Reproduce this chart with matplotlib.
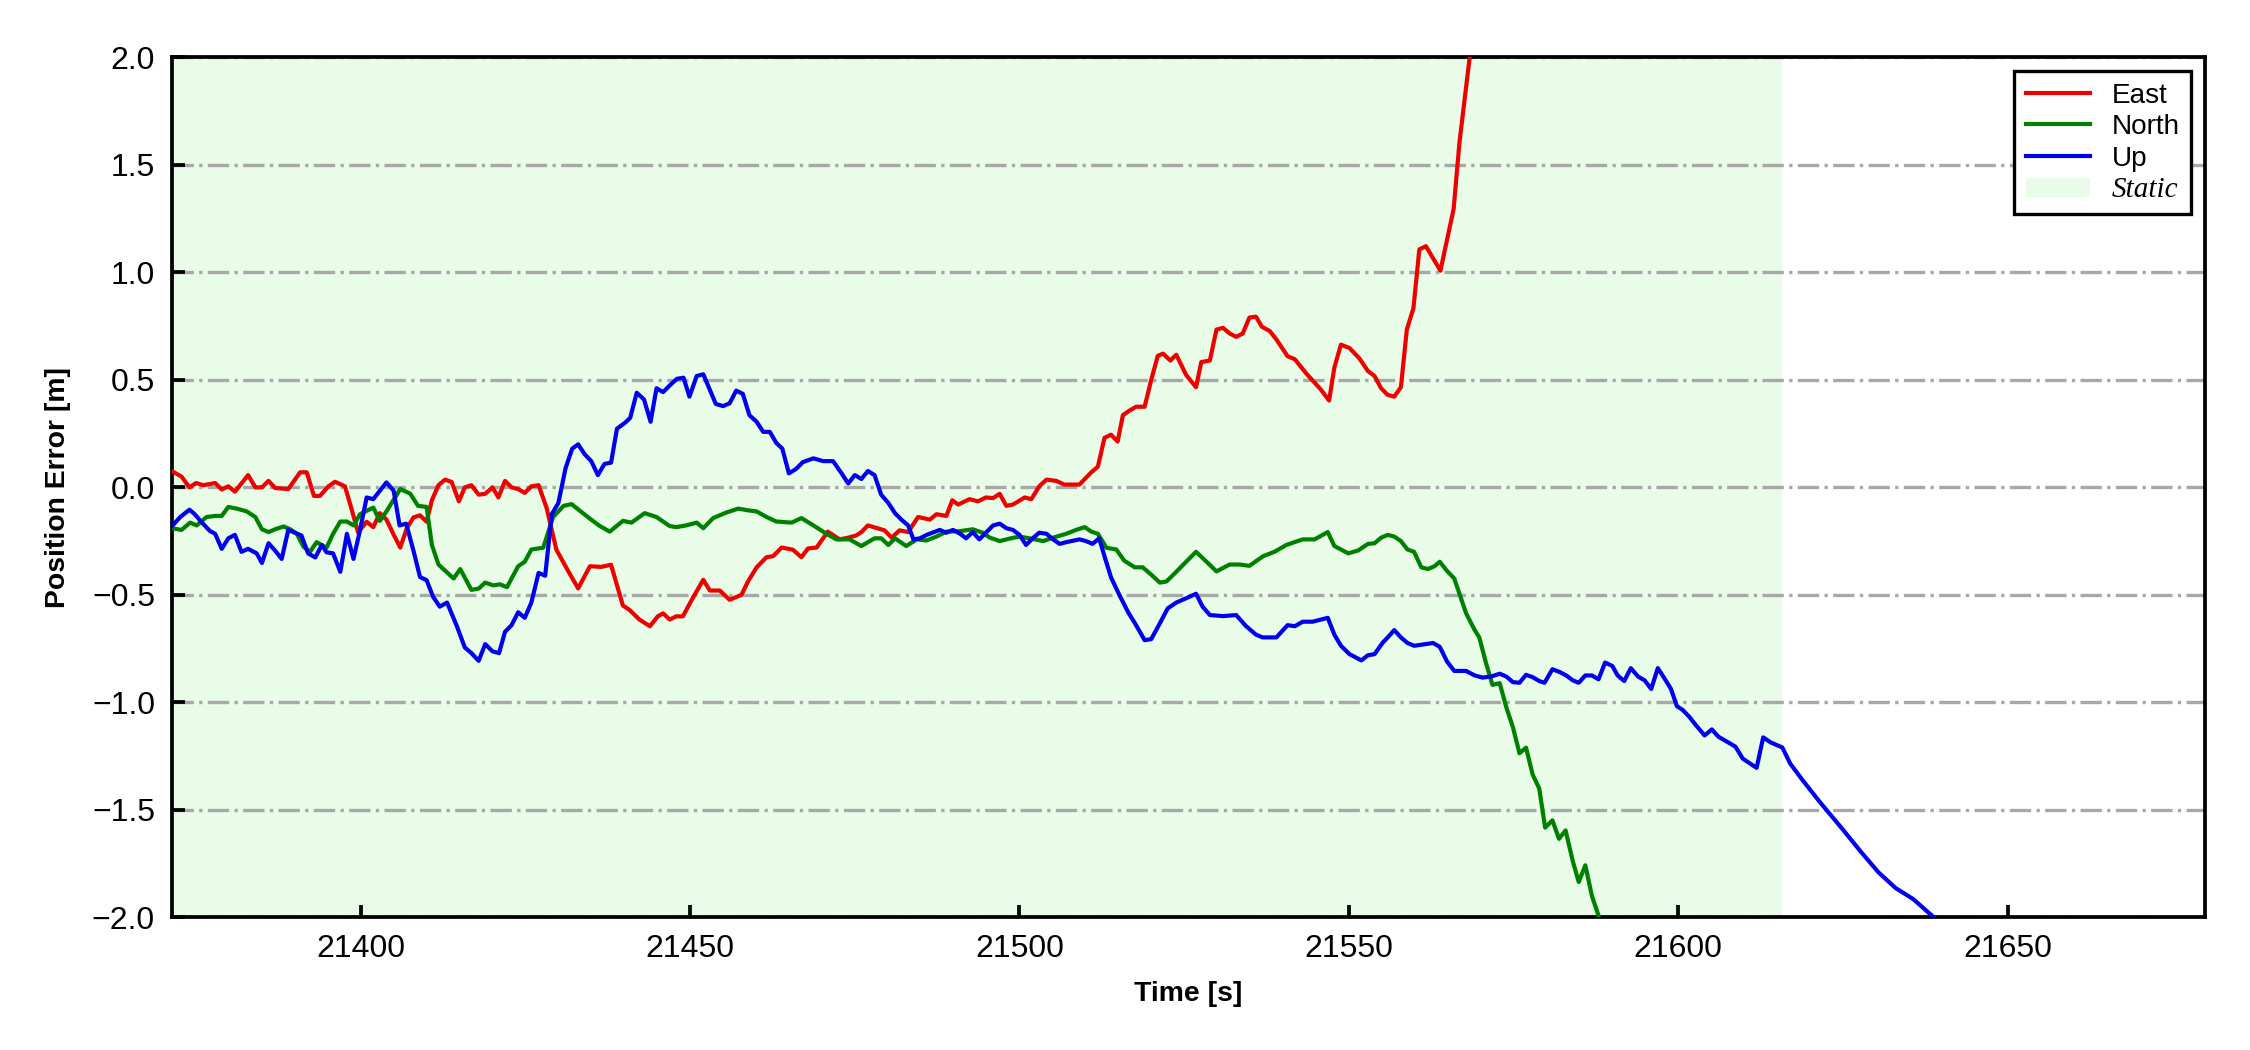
import matplotlib
matplotlib.use("Agg")
import matplotlib.pyplot as plt
from matplotlib.patches import Patch
from matplotlib.lines import Line2D

# ---------------- data ----------------
east_t = [21371.3, 21372.8, 21374.0, 21375.0, 21376.1, 21377.9, 21378.9, 21379.9, 21380.9, 21382.9,
          21384.0, 21385.0, 21386.0, 21387.0, 21389.0, 21390.8, 21391.8, 21392.9, 21393.8, 21395.1,
          21396.1, 21397.6, 21398.6, 21399.6, 21400.9, 21401.9, 21402.9, 21403.9, 21405.0, 21406.0,
          21407.0, 21408.0, 21409.0, 21410.0, 21410.8, 21411.8, 21412.8, 21413.8, 21414.9, 21415.8,
          21416.8, 21417.9, 21418.9, 21420.0, 21420.9, 21421.9, 21422.9, 21423.9, 21424.9, 21425.9,
          21427.0, 21428.2, 21429.7, 21431.5, 21433.0, 21434.8, 21436.5, 21438.0, 21439.8, 21440.8,
          21442.3, 21443.9, 21445.1, 21445.9, 21446.9, 21447.9, 21448.9, 21450.4, 21452.0, 21453.0,
          21454.5, 21456.0, 21457.8, 21458.8, 21460.1, 21461.6, 21462.6, 21463.9, 21465.6, 21466.9,
          21467.9, 21469.2, 21470.9, 21472.7, 21474.0, 21475.2, 21476.0, 21477.0, 21479.5, 21480.6,
          21481.8, 21483.1, 21484.6, 21486.4, 21487.4, 21488.9, 21489.8, 21490.7, 21492.4, 21493.7,
          21494.9, 21496.0, 21497.0, 21498.0, 21499.0, 21500.8, 21501.8, 21503.0, 21504.1, 21505.6,
          21506.8, 21509.1, 21510.9, 21511.9, 21512.9, 21513.9, 21514.9, 21515.7, 21516.7, 21517.7,
          21519.0, 21520.0, 21521.0, 21521.8, 21522.9, 21523.8, 21525.3, 21526.8, 21527.6, 21528.9,
          21529.9, 21530.9, 21531.9, 21532.9, 21533.9, 21534.9, 21535.9, 21536.8, 21538.0, 21539.0,
          21540.7, 21541.8, 21543.5, 21545.8, 21547.0, 21547.8, 21548.8, 21550.1, 21551.6, 21552.9,
          21553.9, 21554.9, 21555.9, 21556.9, 21557.9, 21558.8, 21559.8, 21560.7, 21561.7, 21563.9,
          21564.9, 21565.9, 21566.8, 21568.3, 21569.6]
east_v = [0.076, 0.05, 0.0, 0.02, 0.01, 0.02, -0.01, 0.005, -0.02, 0.057,
          0.0, 0.0, 0.03, -0.003, -0.008, 0.07, 0.07, -0.04, -0.04, 0.005,
          0.026, 0.005, -0.1, -0.21, -0.16, -0.185, -0.12, -0.15, -0.22, -0.28,
          -0.19, -0.14, -0.13, -0.16, -0.06, 0.01, 0.036, 0.025, -0.065, 0.0,
          0.01, -0.034, -0.03, 0.0, -0.047, 0.03, 0.0, -0.008, -0.026, 0.005,
          0.01, -0.094, -0.29, -0.39, -0.47, -0.367, -0.37, -0.36, -0.55, -0.57,
          -0.615, -0.646, -0.6, -0.586, -0.615, -0.6, -0.6, -0.515, -0.43, -0.48,
          -0.48, -0.523, -0.5, -0.437, -0.372, -0.325, -0.32, -0.28, -0.29, -0.325,
          -0.284, -0.28, -0.206, -0.242, -0.234, -0.224, -0.208, -0.177, -0.2, -0.234,
          -0.2, -0.208, -0.138, -0.15, -0.125, -0.133, -0.06, -0.08, -0.055, -0.065,
          -0.047, -0.05, -0.03, -0.086, -0.08, -0.047, -0.055, 0.005, 0.036, 0.03,
          0.013, 0.013, 0.07, 0.096, 0.23, 0.245, 0.213, 0.336, 0.357, 0.375,
          0.375, 0.5, 0.612, 0.622, 0.59, 0.617, 0.523, 0.466, 0.583, 0.59,
          0.734, 0.742, 0.716, 0.7, 0.716, 0.79, 0.794, 0.747, 0.727, 0.688,
          0.61, 0.596, 0.531, 0.453, 0.404, 0.557, 0.664, 0.648, 0.600, 0.541,
          0.518, 0.461, 0.43, 0.422, 0.466, 0.734, 0.833, 1.107, 1.122, 1.008,
          1.151, 1.294, 1.607, 1.99, 2.4]

north_t = [21371.3, 21372.8, 21374.1, 21375.1, 21376.6, 21377.9, 21378.9, 21379.9, 21381.2, 21382.7,
           21384.0, 21385.0, 21386.0, 21387.0, 21388.3, 21389.3, 21390.3, 21391.3, 21392.3, 21393.3,
           21394.8, 21395.8, 21396.9, 21397.9, 21398.9, 21399.9, 21401.9, 21402.9, 21403.9, 21406.0,
           21407.5, 21408.7, 21410.0, 21410.8, 21411.8, 21414.1, 21415.1, 21416.8, 21417.9, 21418.9,
           21420.1, 21421.1, 21422.2, 21423.9, 21424.9, 21425.9, 21427.7, 21429.2, 21430.8, 21432.0,
           21433.2, 21434.8, 21436.3, 21437.8, 21439.8, 21441.1, 21443.1, 21444.9, 21446.9, 21447.9,
           21449.4, 21451.0, 21452.0, 21453.5, 21455.5, 21457.3, 21458.8, 21460.1, 21461.6, 21463.1,
           21465.4, 21466.9, 21468.7, 21470.7, 21472.2, 21474.2, 21476.0, 21478.0, 21479.0, 21480.1,
           21481.1, 21482.8, 21484.4, 21485.9, 21487.4, 21488.9, 21490.9, 21492.9, 21494.4, 21495.5,
           21497.0, 21498.7, 21500.0, 21501.5, 21503.6, 21505.1, 21507.1, 21508.6, 21509.9, 21510.9,
           21511.9, 21513.2, 21514.7, 21515.9, 21517.5, 21518.7, 21520.0, 21521.3, 21522.3, 21523.8,
           21525.3, 21526.8, 21528.6, 21529.9, 21531.9, 21533.4, 21534.9, 21537.0, 21538.7, 21540.5,
           21543.0, 21544.8, 21546.8, 21547.8, 21549.9, 21551.4, 21552.9, 21553.9, 21554.9, 21555.9,
           21556.9, 21557.9, 21558.9, 21559.9, 21561.0, 21562.0, 21563.0, 21563.8, 21564.8, 21566.0,
           21567.8, 21569.1, 21569.8, 21570.8, 21571.8, 21572.9, 21573.9, 21574.9, 21575.9, 21576.9,
           21577.9, 21578.9, 21579.8, 21580.9, 21581.9, 21582.9, 21584.0, 21584.9, 21585.9, 21586.9,
           21587.9, 21589.2]
north_v = [-0.19, -0.198, -0.164, -0.177, -0.138, -0.133, -0.133, -0.091, -0.099, -0.112,
           -0.138, -0.195, -0.208, -0.195, -0.182, -0.195, -0.216, -0.276, -0.3, -0.255,
           -0.281, -0.216, -0.159, -0.159, -0.177, -0.125, -0.094, -0.156, -0.112, -0.008,
           -0.029, -0.086, -0.091, -0.268, -0.359, -0.424, -0.38, -0.477, -0.471, -0.443,
           -0.456, -0.451, -0.464, -0.367, -0.346, -0.289, -0.281, -0.138, -0.086, -0.078,
           -0.107, -0.146, -0.18, -0.206, -0.156, -0.164, -0.12, -0.138, -0.18, -0.185,
           -0.177, -0.164, -0.19, -0.143, -0.117, -0.099, -0.107, -0.112, -0.138, -0.159,
           -0.164, -0.143, -0.177, -0.216, -0.242, -0.242, -0.273, -0.237, -0.237, -0.268,
           -0.237, -0.273, -0.242, -0.247, -0.229, -0.206, -0.204, -0.195, -0.211, -0.234,
           -0.25, -0.237, -0.229, -0.237, -0.25, -0.234, -0.216, -0.198, -0.185, -0.206,
           -0.216, -0.281, -0.289, -0.341, -0.372, -0.372, -0.406, -0.443, -0.438, -0.393,
           -0.346, -0.3, -0.352, -0.391, -0.359, -0.359, -0.365, -0.32, -0.3, -0.268,
           -0.242, -0.242, -0.208, -0.273, -0.307, -0.294, -0.263, -0.26, -0.234, -0.221,
           -0.229, -0.25, -0.289, -0.3, -0.372, -0.38, -0.367, -0.346, -0.385, -0.424,
           -0.586, -0.664, -0.698, -0.815, -0.919, -0.911, -1.023, -1.115, -1.237, -1.211,
           -1.336, -1.401, -1.583, -1.549, -1.635, -1.596, -1.74, -1.836, -1.758, -1.901,
           -1.992, -2.3]

up_t = [21371.3, 21372.6, 21374.0, 21374.8, 21375.9, 21377.1, 21377.9, 21378.9, 21379.9, 21380.9,
        21381.9, 21382.9, 21384.2, 21385.0, 21386.0, 21387.0, 21388.0, 21389.0, 21390.0, 21391.0,
        21392.0, 21393.1, 21394.1, 21394.8, 21395.8, 21396.9, 21397.9, 21398.9, 21399.9, 21400.9,
        21401.9, 21402.9, 21403.9, 21405.0, 21405.9, 21406.9, 21408.0, 21409.0, 21410.0, 21411.0,
        21412.0, 21413.1, 21414.6, 21415.8, 21416.8, 21417.9, 21418.9, 21420.0, 21421.0, 21421.9,
        21422.9, 21423.9, 21424.9, 21425.9, 21427.0, 21428.0, 21429.0, 21430.0, 21431.1, 21432.1,
        21433.0, 21434.0, 21435.0, 21436.0, 21437.0, 21438.0, 21438.9, 21440.1, 21440.9, 21441.9,
        21443.0, 21444.0, 21444.9, 21445.9, 21446.9, 21448.0, 21449.0, 21449.9, 21451.0, 21452.0,
        21452.9, 21453.9, 21455.0, 21456.0, 21457.0, 21458.0, 21459.0, 21460.1, 21461.1, 21462.1,
        21463.1, 21464.0, 21465.0, 21466.1, 21467.1, 21468.7, 21470.2, 21471.7, 21473.0, 21474.0,
        21475.0, 21476.0, 21477.0, 21478.0, 21479.0, 21480.1, 21481.1, 21482.1, 21483.1, 21483.9,
        21484.9, 21485.9, 21487.9, 21488.9, 21489.9, 21490.9, 21491.9, 21492.9, 21493.9, 21494.9,
        21496.0, 21497.0, 21498.0, 21499.0, 21500.0, 21501.0, 21502.0, 21503.0, 21504.1, 21505.1,
        21506.1, 21507.1, 21509.1, 21510.1, 21511.1, 21512.1, 21512.9, 21513.9, 21515.2, 21516.5,
        21517.7, 21519.0, 21520.0, 21521.3, 21522.5, 21523.8, 21525.3, 21526.8, 21527.8, 21528.9,
        21530.9, 21532.9, 21534.4, 21535.9, 21536.9, 21539.0, 21540.7, 21541.8, 21543.0, 21544.5,
        21545.8, 21546.8, 21547.8, 21548.8, 21550.1, 21551.9, 21552.9, 21553.9, 21555.1, 21555.9,
        21556.9, 21557.9, 21558.9, 21559.9, 21561.7, 21562.8, 21563.8, 21564.9, 21566.0, 21567.8,
        21569.1, 21570.3, 21571.6, 21572.9, 21573.9, 21574.9, 21575.9, 21576.9, 21577.9, 21578.9,
        21579.7, 21580.9, 21582.0, 21583.0, 21584.0, 21584.9, 21585.9, 21586.9, 21587.9, 21588.9,
        21590.0, 21590.8, 21591.8, 21592.8, 21593.9, 21594.9, 21595.9, 21596.9, 21597.9, 21598.9,
        21599.8, 21600.7, 21601.7, 21602.7, 21604.0, 21605.1, 21606.1, 21607.9, 21608.7, 21609.8,
        21611.9, 21612.9, 21614.0, 21615.8, 21617.0, 21618.9, 21621.5, 21624.7, 21627.8, 21630.4,
        21633.0, 21635.7, 21638.8, 21641.0]
up_v = [-0.182, -0.138, -0.104, -0.125, -0.164, -0.203, -0.216, -0.286, -0.237, -0.221,
        -0.3, -0.286, -0.307, -0.352, -0.26, -0.294, -0.333, -0.198, -0.211, -0.224,
        -0.307, -0.326, -0.268, -0.302, -0.307, -0.393, -0.216, -0.333, -0.198, -0.047,
        -0.055, -0.016, 0.023, -0.016, -0.177, -0.169, -0.294, -0.417, -0.432, -0.51,
        -0.555, -0.536, -0.646, -0.745, -0.771, -0.807, -0.729, -0.763, -0.771, -0.672,
        -0.641, -0.581, -0.607, -0.536, -0.398, -0.411, -0.125, -0.073, 0.09, 0.18,
        0.2, 0.154, 0.122, 0.057, 0.109, 0.115, 0.273, 0.3, 0.323, 0.44,
        0.409, 0.305, 0.461, 0.443, 0.474, 0.505, 0.51, 0.422, 0.518, 0.526,
        0.461, 0.388, 0.378, 0.391, 0.45, 0.435, 0.336, 0.305, 0.258, 0.258,
        0.206, 0.18, 0.065, 0.086, 0.117, 0.135, 0.122, 0.122, 0.065, 0.018,
        0.057, 0.039, 0.076, 0.057, -0.034, -0.073, -0.12, -0.151, -0.177, -0.242,
        -0.237, -0.221, -0.198, -0.211, -0.198, -0.214, -0.237, -0.208, -0.242, -0.211,
        -0.177, -0.169, -0.19, -0.198, -0.221, -0.268, -0.237, -0.211, -0.216, -0.242,
        -0.263, -0.255, -0.242, -0.25, -0.263, -0.237, -0.32, -0.419, -0.503, -0.581,
        -0.641, -0.711, -0.706, -0.633, -0.563, -0.536, -0.516, -0.495, -0.555, -0.594,
        -0.599, -0.594, -0.646, -0.685, -0.698, -0.698, -0.641, -0.646, -0.625, -0.625,
        -0.615, -0.607, -0.685, -0.737, -0.776, -0.805, -0.781, -0.776, -0.724, -0.698,
        -0.664, -0.698, -0.724, -0.737, -0.729, -0.724, -0.742, -0.81, -0.854, -0.854,
        -0.875, -0.885, -0.88, -0.867, -0.88, -0.906, -0.909, -0.872, -0.883, -0.901,
        -0.909, -0.846, -0.859, -0.875, -0.898, -0.909, -0.875, -0.875, -0.893, -0.815,
        -0.831, -0.875, -0.901, -0.841, -0.88, -0.898, -0.938, -0.841, -0.888, -0.938,
        -1.018, -1.036, -1.068, -1.107, -1.154, -1.126, -1.16, -1.192, -1.207, -1.262,
        -1.305, -1.163, -1.186, -1.21, -1.285, -1.363, -1.464, -1.581, -1.698, -1.791,
        -1.864, -1.916, -2.0, -2.08]

static_start = 21360.0
static_end = 21615.8

x_ticks = [21400, 21450, 21500, 21550, 21600, 21650]
y_ticks = [-2.0, -1.5, -1.0, -0.5, 0.0, 0.5, 1.0, 1.5, 2.0]
x_range = (21371.3, 21680.0)
y_range = (-2.0, 2.0)

series_labels = ["East", "North", "Up"]
static_label = "Static"

# ---------------- plot ----------------
plt.rcParams['font.family'] = ['Liberation Sans', 'DejaVu Sans']

fig = plt.figure(figsize=(7.5, 3.5), dpi=300)
ax = fig.add_axes([0.0763, 0.1264, 0.9038, 0.8189])

static_color = '#e8fce8'
ax.axvspan(static_start, static_end, color=static_color, lw=0, zorder=0)

ax.grid(axis='y', linestyle='-.', color='#a8a8a8', linewidth=0.8, zorder=1)
ax.set_axisbelow(True)

colors = ['#ee0000', '#008000', '#0000ee']
ax.plot(east_t, east_v, color=colors[0], lw=1.0, zorder=3)
ax.plot(north_t, north_v, color=colors[1], lw=1.0, zorder=3)
ax.plot(up_t, up_v, color=colors[2], lw=1.0, zorder=3)

ax.set_xlim(*x_range)
ax.set_ylim(*y_range)
ax.set_xticks(x_ticks)
ax.set_yticks(y_ticks)
ax.set_yticklabels([f"{v:.1f}".replace('-', '\u2212') for v in y_ticks])

ax.tick_params(axis='both', which='major', direction='in', length=3, width=0.9,
               labelsize=7.7, pad=4, top=False, right=False)
for s in ax.spines.values():
    s.set_linewidth(0.9)

ax.set_xlabel("Time [s]", fontsize=6.8, fontweight='bold', labelpad=4)
ax.set_ylabel("Position Error [m]", fontsize=6.8, fontweight='bold', labelpad=5)

handles = [Line2D([], [], color=c, lw=1.0) for c in colors]
handles.append(Patch(facecolor=static_color, edgecolor='none'))
labels = series_labels + [static_label]
leg = ax.legend(handles, labels, loc='upper right', fontsize=6.7, labelspacing=0.2,
                handlelength=2.3, handletextpad=0.8, borderpad=0.4,
                fancybox=False, framealpha=1.0, edgecolor='black')
leg.get_frame().set_linewidth(0.8)
txt = leg.get_texts()[3]
txt.set_fontfamily('Liberation Serif')
txt.set_fontstyle('italic')
txt.set_fontsize(7.0)

fig.savefig("out.png", dpi=300)
